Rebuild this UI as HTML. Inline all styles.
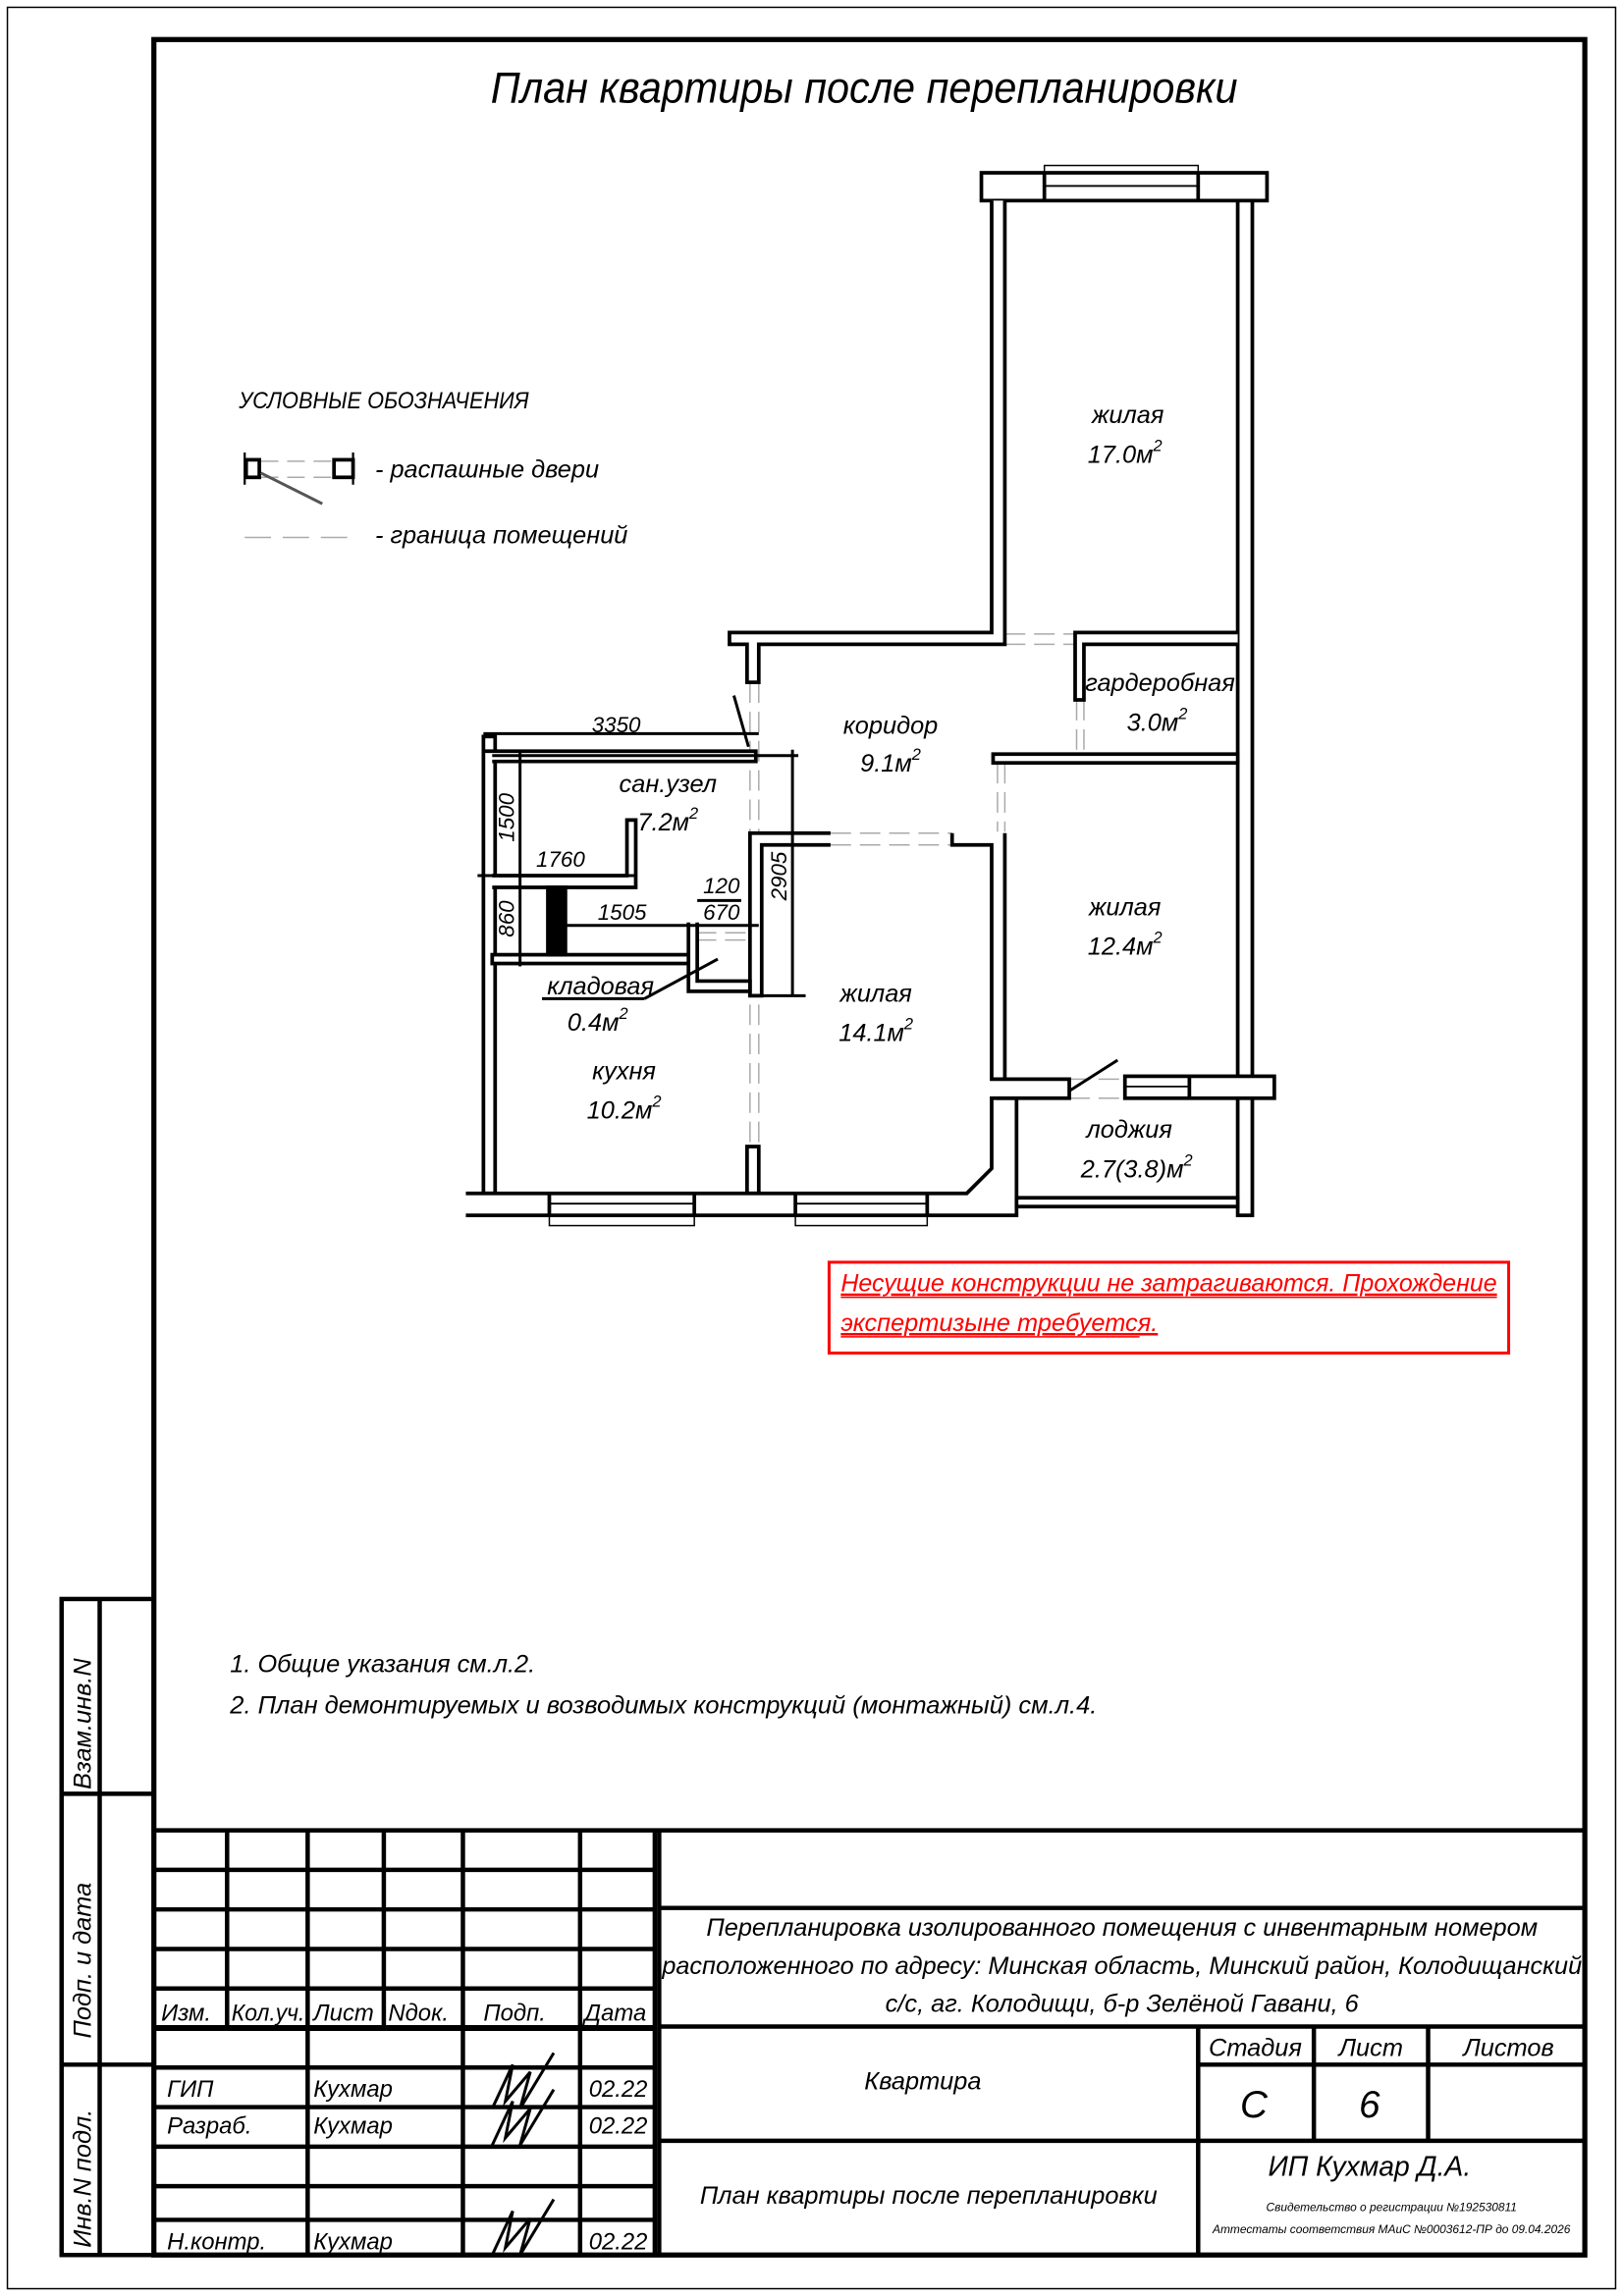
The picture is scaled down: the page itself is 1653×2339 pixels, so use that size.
<!DOCTYPE html>
<html><head><meta charset="utf-8"><style>
html,body{margin:0;padding:0;background:#fff}
svg{display:block}
text{font-family:"Liberation Sans","DejaVu Sans",sans-serif;font-style:italic;fill:#000}
</style></head><body>
<svg width="1653" height="2339" viewBox="0 0 1108 1568" xmlns="http://www.w3.org/2000/svg">
<rect x="0" y="0" width="1108" height="1568" fill="#fff"/>
<rect x="5" y="5" width="1098" height="1558" fill="none" stroke="#000" stroke-width="1"/>
<rect x="105" y="27" width="977" height="1513" fill="none" stroke="#000" stroke-width="3.5"/>

<g stroke="#000" stroke-width="3" fill="none">
<rect x="42" y="1092" width="63" height="448"/>
<line x1="68" y1="1092" x2="68" y2="1540"/>
<line x1="42" y1="1225" x2="105" y2="1225"/>
<line x1="42" y1="1410" x2="105" y2="1410"/>
</g>
<text transform="translate(62,1222) rotate(-90)" font-size="17">Взам.инв.N</text>
<text transform="translate(62,1392) rotate(-90)" font-size="17">Подп. и дата</text>
<text transform="translate(62,1535) rotate(-90)" font-size="17">Инв.N подл.</text>

<text x="590" y="70" font-size="30" text-anchor="middle" textLength="510" lengthAdjust="spacingAndGlyphs">План квартиры после перепланировки</text>

<text x="163" y="279" font-size="16" textLength="198" lengthAdjust="spacingAndGlyphs">УСЛОВНЫЕ ОБОЗНАЧЕНИЯ</text>
<g stroke="#aaa" stroke-width="1"><line x1="178" y1="315" x2="228" y2="315" stroke-dasharray="12,6"/><line x1="178" y1="326" x2="228" y2="326" stroke-dasharray="12,6"/><line x1="167" y1="367" x2="243" y2="367" stroke-dasharray="18,8"/></g>
<rect x="168" y="314" width="9" height="12" fill="none" stroke="#000" stroke-width="2.5"/>
<rect x="228" y="314" width="13" height="12" fill="none" stroke="#000" stroke-width="2.5"/>
<line x1="167" y1="309" x2="167" y2="331" stroke="#000" stroke-width="1.5"/>
<line x1="241" y1="309" x2="241" y2="331" stroke="#000" stroke-width="1.5"/>
<line x1="178" y1="323" x2="220" y2="344" stroke="#555" stroke-width="2"/>
<text x="256" y="326" font-size="17">- распашные двери</text>
<text x="256" y="371" font-size="17">- граница помещений</text>

<g stroke="#aaa" stroke-width="1" fill="none" stroke-dasharray="14,6">
<line x1="686" y1="433" x2="734" y2="433"/><line x1="686" y1="440" x2="734" y2="440"/>
<line x1="735" y1="478" x2="735" y2="515"/><line x1="740" y1="478" x2="740" y2="515"/>
<line x1="681" y1="521" x2="681" y2="568"/><line x1="686" y1="521" x2="686" y2="568"/>
<line x1="567" y1="569" x2="650" y2="569"/><line x1="567" y1="577" x2="650" y2="577"/>
<line x1="512" y1="466" x2="512" y2="783"/><line x1="518" y1="466" x2="518" y2="783"/>
<line x1="730" y1="737" x2="768" y2="737"/><line x1="730" y1="750" x2="768" y2="750"/>
<line x1="475" y1="637" x2="510" y2="637"/><line x1="475" y1="642" x2="510" y2="642"/>
</g>

<g stroke="#000" stroke-width="2.5" fill="#fff">
<rect x="670" y="118" width="195" height="19"/>
<line x1="713" y1="118" x2="713" y2="137"/><line x1="818" y1="118" x2="818" y2="137"/>
<line x1="713" y1="127" x2="818" y2="127" stroke-width="1.2"/>
<polyline points="677,137 677,432 498,432 498,440 510,440 510,466 518,466 518,440 686,440 686,137" />
<rect x="845" y="137" width="10" height="693"/>
<polyline points="845,432 734,432 734,478 740,478 740,440 845,440"/>
<rect x="678" y="515" width="167" height="6"/>
<polyline points="650,569 650,577 677,577 677,737 686,737 686,569 Z"/>
<polyline points="567,569 512,569 512,680 520,680 520,577 567,577 Z"/>
<rect x="330" y="503" width="8" height="312"/>
<polyline points="330,513 516,513 516,520 336,520 Z"/>
<polyline points="336,598 428,598 428,560 434,560 434,606 336,606 Z"/>
<rect x="336" y="652" width="136" height="6"/>
<rect x="374" y="606" width="5" height="46" fill="#000"/><rect x="381" y="606" width="5" height="46" fill="#000"/>
<polyline points="470,630 470,677 512,677 512,670 476,670 476,630 Z"/>
<rect x="510" y="783" width="8" height="32"/>
<polyline points="318,815 660,815 677,798 677,750 694,750 694,830 318,830 Z"/>
<line x1="375" y1="815" x2="375" y2="830"/><line x1="474" y1="815" x2="474" y2="830"/>
<line x1="543" y1="815" x2="543" y2="830"/><line x1="633" y1="815" x2="633" y2="830"/>
<line x1="375" y1="822" x2="474" y2="822" stroke-width="1.2"/><line x1="543" y1="822" x2="633" y2="822" stroke-width="1.2"/>
<polyline points="680,737 730,737 730,750 680,750 Z"/>
<rect x="768" y="735" width="102" height="15"/>
<line x1="812" y1="735" x2="812" y2="750"/>
<line x1="768" y1="742" x2="812" y2="742" stroke-width="1.2"/>
<rect x="694" y="818" width="151" height="6"/>
</g>
<g stroke="#000" stroke-width="1" fill="none">
<rect x="375" y="830" width="99" height="7"/><rect x="543" y="830" width="90" height="7"/>
<rect x="713" y="113" width="105" height="5"/>
</g>
<g stroke="#000" stroke-width="2">
<line x1="730" y1="745" x2="763" y2="724"/>
<line x1="501" y1="475" x2="511" y2="510"/>
<line x1="490" y1="655" x2="440" y2="682"/>
<line x1="440" y1="682" x2="370" y2="682"/>
</g>
<g stroke="#000" stroke-width="2" fill="none">
<line x1="330" y1="501" x2="518" y2="501"/>
<line x1="336" y1="516" x2="545" y2="516"/>
<line x1="541" y1="512" x2="541" y2="680"/>
<line x1="520" y1="680" x2="550" y2="680"/>
<line x1="355" y1="512" x2="355" y2="660"/>
<line x1="326" y1="598" x2="434" y2="598"/>
<line x1="386" y1="632" x2="518" y2="632"/>
<line x1="476" y1="615" x2="506" y2="615"/>
</g>
<g font-size="15">
<text x="404" y="500">3350</text>
<text x="366" y="592">1760</text>
<text x="408" y="628">1505</text>
<text x="480" y="610">120</text>
<text x="480" y="628">670</text>
<text transform="translate(351,575) rotate(-90)">1500</text>
<text transform="translate(351,640) rotate(-90)">860</text>
<text transform="translate(537,615) rotate(-90)">2905</text>
</g>
<g font-size="17" text-anchor="middle">
<text x="770" y="289">жилая</text><text x="768" y="316">17.0м<tspan font-size="11" dy="-8">2</tspan></text>
<text x="792" y="472">гардеробная</text><text x="790" y="499">3.0м<tspan font-size="11" dy="-8">2</tspan></text>
<text x="608" y="501">коридор</text><text x="608" y="527">9.1м<tspan font-size="11" dy="-8">2</tspan></text>
<text x="456" y="541">сан.узел</text><text x="456" y="567">7.2м<tspan font-size="11" dy="-8">2</tspan></text>
<text x="768" y="625">жилая</text><text x="768" y="652">12.4м<tspan font-size="11" dy="-8">2</tspan></text>
<text x="410" y="679">кладовая</text><text x="408" y="704">0.4м<tspan font-size="11" dy="-8">2</tspan></text>
<text x="598" y="684">жилая</text><text x="598" y="711">14.1м<tspan font-size="11" dy="-8">2</tspan></text>
<text x="426" y="737">кухня</text><text x="426" y="764">10.2м<tspan font-size="11" dy="-8">2</tspan></text>
<text x="771" y="777">лоджия</text><text x="776" y="804">2.7(3.8)м<tspan font-size="11" dy="-8">2</tspan></text>
</g>

<rect x="566" y="862" width="464" height="62" fill="none" stroke="#f00" stroke-width="2"/>
<g font-size="17" style="fill:#f00" text-decoration="underline">
<text x="574" y="882" style="fill:#f00" textLength="448" lengthAdjust="spacingAndGlyphs">Несущие конструкции не затрагиваются. Прохождение</text>
<text x="574" y="909" style="fill:#f00">экспертизыне требуется.</text>
</g>
<line x1="574" y1="886" x2="1022" y2="886" stroke="#f00" stroke-width="1"/>
<line x1="574" y1="913" x2="778" y2="913" stroke="#f00" stroke-width="1"/>

<text x="157" y="1142" font-size="17">1.  Общие указания см.л.2.</text>
<text x="157" y="1170" font-size="17" textLength="592" lengthAdjust="spacingAndGlyphs">2.  План демонтируемых и возводимых конструкций (монтажный) см.л.4.</text>

<g stroke="#000" stroke-width="3" fill="none">
<line x1="105" y1="1250" x2="1082" y2="1250"/>
<line x1="450" y1="1303" x2="1082" y2="1303"/>
<line x1="450" y1="1384" x2="1082" y2="1384"/>
<line x1="450" y1="1462" x2="1082" y2="1462"/>
<line x1="450" y1="1250" x2="450" y2="1540"/>
<line x1="818" y1="1384" x2="818" y2="1540"/>
<line x1="897" y1="1384" x2="897" y2="1462"/>
<line x1="975" y1="1384" x2="975" y2="1462"/>
<line x1="818" y1="1410" x2="1082" y2="1410"/>
<line x1="105" y1="1277" x2="447" y2="1277"/>
<line x1="105" y1="1304" x2="447" y2="1304"/>
<line x1="105" y1="1331" x2="447" y2="1331"/>
<line x1="105" y1="1358" x2="447" y2="1358"/>
<line x1="105" y1="1385" x2="447" y2="1385" stroke-width="4"/>
<line x1="105" y1="1412" x2="447" y2="1412"/>
<line x1="105" y1="1439" x2="447" y2="1439"/>
<line x1="105" y1="1466" x2="447" y2="1466"/>
<line x1="105" y1="1493" x2="447" y2="1493"/>
<line x1="105" y1="1516" x2="447" y2="1516"/>
<line x1="155" y1="1250" x2="155" y2="1385"/>
<line x1="262" y1="1250" x2="262" y2="1385"/>
<line x1="210" y1="1250" x2="210" y2="1540"/>
<line x1="316" y1="1250" x2="316" y2="1540"/>
<line x1="396" y1="1250" x2="396" y2="1540"/>
<line x1="447" y1="1250" x2="447" y2="1540"/>
</g>
<g font-size="16">
<text x="110" y="1380">Изм.</text><text x="158" y="1380" textLength="50" lengthAdjust="spacingAndGlyphs">Кол.уч.</text>
<text x="214" y="1380">Лист</text><text x="265" y="1380">Nдок.</text>
<text x="330" y="1380">Подп.</text><text x="399" y="1380">Дата</text>
<text x="114" y="1432">ГИП</text><text x="214" y="1432">Кухмар</text><text x="402" y="1432">02.22</text>
<text x="114" y="1457">Разраб.</text><text x="214" y="1457">Кухмар</text><text x="402" y="1457">02.22</text>
<text x="114" y="1536">Н.контр.</text><text x="214" y="1536">Кухмар</text><text x="402" y="1536">02.22</text>
</g>
<g stroke="#000" stroke-width="2" fill="none">
<path d="M336,1440 L350,1410 L345,1435 L362,1415 L355,1440 L378,1402"/>
<path d="M336,1465 L350,1435 L345,1460 L362,1440 L355,1465 L378,1427"/>
<path d="M336,1540 L350,1510 L345,1535 L362,1515 L355,1540 L378,1502"/>
</g>
<g font-size="17" text-anchor="middle">
<text x="766" y="1322">Перепланировка изолированного помещения с инвентарным номером</text>
<text x="766" y="1348" textLength="628" lengthAdjust="spacingAndGlyphs">расположенного по адресу: Минская область, Минский район, Колодищанский</text>
<text x="766" y="1374">с/с, аг. Колодищи, б-р Зелёной Гавани, 6</text>
<text x="630" y="1427">Квартира</text>
<text x="634" y="1505">План квартиры после перепланировки</text>
<text x="857" y="1404">Стадия</text><text x="936" y="1404">Лист</text><text x="1030" y="1404">Листов</text>
<text x="935" y="1486" font-size="19">ИП Кухмар Д.А.</text>
<text x="950" y="1510" font-size="8">Свидетельство о регистрации №192530811</text>
<text x="950" y="1525" font-size="8">Аттестаты соответствия МАиС №0003612-ПР до 09.04.2026</text>
</g>
<text x="856" y="1446" font-size="26" text-anchor="middle">С</text>
<text x="935" y="1446" font-size="26" text-anchor="middle">6</text>
</svg>
</body></html>
